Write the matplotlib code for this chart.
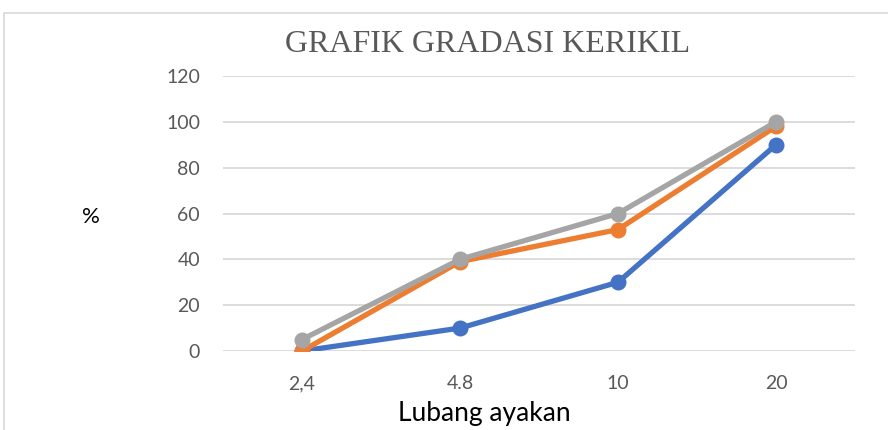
import matplotlib
matplotlib.use("Agg")
import matplotlib.pyplot as plt
from matplotlib.patches import Rectangle

categories = ["2,4", "4.8", "10", "20"]
series_blue = [0, 10, 30, 90]
series_orange = [0, 39, 53, 98]
series_grey = [5, 40, 60, 100]
yticks = [0, 20, 40, 60, 80, 100, 120]

W, H = 888, 430
fig = plt.figure(figsize=(W / 100, H / 100), dpi=100)
fig.patch.set_facecolor("white")

# chart frame
fig.add_artist(Rectangle((4 / W, -0.1), 1.2, 1 - 13 / H + 0.1, transform=fig.transFigure,
                         facecolor="none", edgecolor="#d9d9d9", linewidth=1.2))

ax = fig.add_axes([223 / W, 1 - 351 / H, (855 - 223) / W, (351 - 76) / H])
ax.set_facecolor("none")
x = list(range(len(categories)))
for vals, col in [(series_blue, "#4472C4"), (series_orange, "#ED7D31"), (series_grey, "#A5A5A5")]:
    ax.plot(x, vals, color=col, linewidth=3.8, marker="o", markersize=10.5, solid_capstyle="round", zorder=3)

ax.set_xlim(-0.5, 3.5)
ax.set_ylim(0, 120)
ax.set_yticks(yticks)
ax.set_xticks(x)
ax.set_xticklabels(categories)
for s in ax.spines.values():
    s.set_visible(False)
ax.grid(axis="y", color="#d9d9d9", linewidth=1.3)
ax.set_axisbelow(True)
ax.tick_params(axis="both", length=0, labelsize=14, colors="#595959", labelfontfamily="Lato")
ax.tick_params(axis="y", pad=16.5)
ax.tick_params(axis="x", pad=17.5)

fig.text(488 / W, 1 - 45 / H, "GRAFIK GRADASI KERIKIL", ha="center", va="center",
         fontsize=23, family="Liberation Serif", color="#595959")
fig.text(91 / W, 1 - 217 / H, "%", ha="center", va="center", fontsize=16, family="Lato", color="black")
fig.text(484 / W, 1 - 414 / H, "Lubang ayakan", ha="center", va="center", fontsize=19, family="Lato", color="black")

fig.savefig("out.png", dpi=100)
